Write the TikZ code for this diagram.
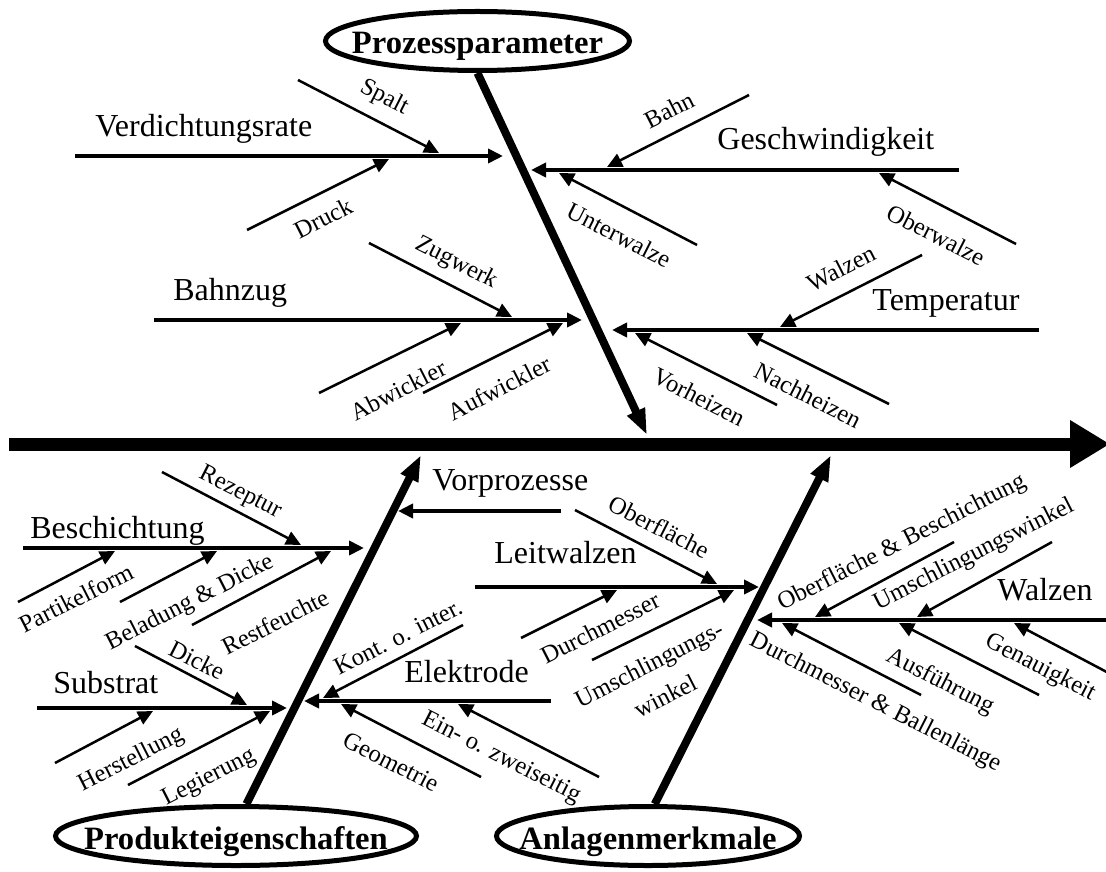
\documentclass[tikz,border=0pt]{standalone}
\usepackage{fontspec}
\setmainfont{Liberation Serif}
\usetikzlibrary{arrows.meta, shapes.geometric}

\begin{document}
\begin{tikzpicture}[x=0.5pt, y=-0.5pt, >={Triangle[length=7.5pt,width=7pt]}]
\tikzstyle{category}=[ellipse, draw, line width=2.5pt, inner xsep=-40pt, inner ysep=0pt,
  minimum height=29.5pt, text height=13pt, text depth=0pt, font=\fontsize{16.3}{18}\selectfont\bfseries]
\tikzstyle{cause}=[anchor=base west, inner sep=0pt, font=\fontsize{16}{18}\selectfont]
\tikzstyle{twiglabel}=[inner sep=0pt, align=center, font=\fontsize{12.3}{14}\selectfont]
\tikzstyle{spine}=[-{Triangle[length=20pt,width=22.5pt]}, line width=6.5pt]
\tikzstyle{bone}=[-{Triangle[length=13pt,width=9pt]}, line width=4pt]
\tikzstyle{rib}=[->, line width=2pt]
\tikzstyle{twig}=[->, line width=1.25pt]

\useasboundingbox (0,0) rectangle (1106,871);
\clip (0,0) rectangle (1106,871);

% Hauptachse
\coordinate (tail) at (9,444);
\coordinate (effect) at (1110,444);
\draw[spine] (tail) -- (effect);

% Kategorien
\node[category, minimum width=152pt] (pp) at (477.5,41) {Prozessparameter};
\node[category, minimum width=180.5pt] (pe) at (236,836) {Produkteigenschaften};
\node[category, minimum width=151.5pt] (am) at (648,836) {Anlagenmerkmale};

\coordinate (pp-tip) at (647,435);
\coordinate (pe-tip) at (421,455);
\coordinate (am-tip) at (831,455);
\draw[bone] (pp.south) -- (pp-tip);
\draw[bone] (pe.72) -- (pe-tip);
\draw[bone] (am.78) -- (am-tip);

% Ursachen
\foreach \n/\sx/\sy/\ex/\ey in {verd/75/156/503/156, gesch/959/170/531/170,
  bahnzug/154/320/582/320, temp/1039/330/612/330, besch/23/548/364/548,
  subst/37/708/287/708, vorpr/561/511/398/511, leitw/475/587/759/587,
  elek/551/701/304/701, walz/1106/620/757/620}
{
  \coordinate (\n-a) at (\sx,\sy);
  \coordinate (\n-b) at (\ex,\ey);
  \draw[rib] (\n-a) -- (\n-b);
}

\foreach \n/\x/\y/\t in {verd/95/137/Verdichtungsrate, gesch/717/150/Geschwindigkeit,
  bahnzug/173/300/Bahnzug, temp/872/310/Temperatur, besch/30/538/Beschichtung,
  subst/53/693/Substrat, vorpr/432/490/Vorprozesse, leitw/494/563/Leitwalzen,
  elek/404/682/Elektrode, walz/997/600/Walzen}
  \node[cause] (\n-t) at (\x,\y) {\t};

% Nebenursachen
\foreach \n/\sx/\sy/\ex/\ey in {spalt/298/80/439/153, druck/247/230/389/159,
  bahn/749/95/607/167, unter/697/245/559/173, ober/1016/244/879/173,
  zug/369/243/512/317, abw/319/393/461/323, aufw/423/393/563/323,
  walzt/922/255/780/327, vorh/777/405/635/333, nachh/889/404/747/333,
  rez/162/472/301/545, part/18/602/115/551, belad/120/602/217/551,
  rest/192/625/331/551, dicke/135/646/247/705, herst/55/763/153/711,
  leg/128/785/270/711, oberf/575/510/717/584, durchm/521/638/617/590,
  umschl/592/660/734/590, kont/463/625/323/698, geo/481/777/341/704,
  ein/599/777/458/704, obbes/954/542/815/617, umw/1052/542/917/617,
  dubal/921/695/782/623, ausf/1039/695/899/623, gen/1154/697/1014/623}
{
  \coordinate (\n-a) at (\sx,\sy);
  \coordinate (\n-b) at (\ex,\ey);
  \draw[twig] (\n-a) -- (\n-b);
}

\foreach \n/\x/\y/\r/\t in {spalt/384/98/-27/Spalt, druck/323/218/27/Druck,
  bahn/669/110/27/Bahn, unter/619/235/-27/Unterwalze, ober/936/235/-27/Oberwalze,
  zug/456/263/-27/Zugwerk, abw/398/390/27/Abwickler, aufw/499/388/27/Aufwickler,
  walzt/841/268/27/Walzen, vorh/699/397/-27/Vorheizen, nachh/808/395/-27/Nachheizen,
  rez/240/493/-27/Rezeptur, part/76/598/27/Partikelform, belad/190/603/27/Beladung \& Dicke,
  rest/275/622/27/Restfeuchte, dicke/197/660/-27/Dicke, herst/131/760/27/Herstellung,
  leg/209/778/27/Legierung, oberf/659/527/-27/Oberfläche, durchm/600/628/27/Durchmesser,
  umschl/657/680/27/{Umschlingungs-\\[4pt]winkel}, kont/398/637/27/Kont. o. inter.,
  geo/391/762/-27/Geometrie, ein/501/758/-27/Ein- o. zweiseitig,
  obbes/902/543/27/Oberfläche \& Beschichtung, umw/974/555/27/Umschlingungswinkel,
  dubal/875/703/-27/Durchmesser \& Ballenlänge, ausf/940/682/-27/Ausführung,
  gen/1040/668/-27/Genauigkeit}
  \node[twiglabel, rotate=\r] (\n-l) at (\x,\y) {\t};

\end{tikzpicture}
\end{document}
